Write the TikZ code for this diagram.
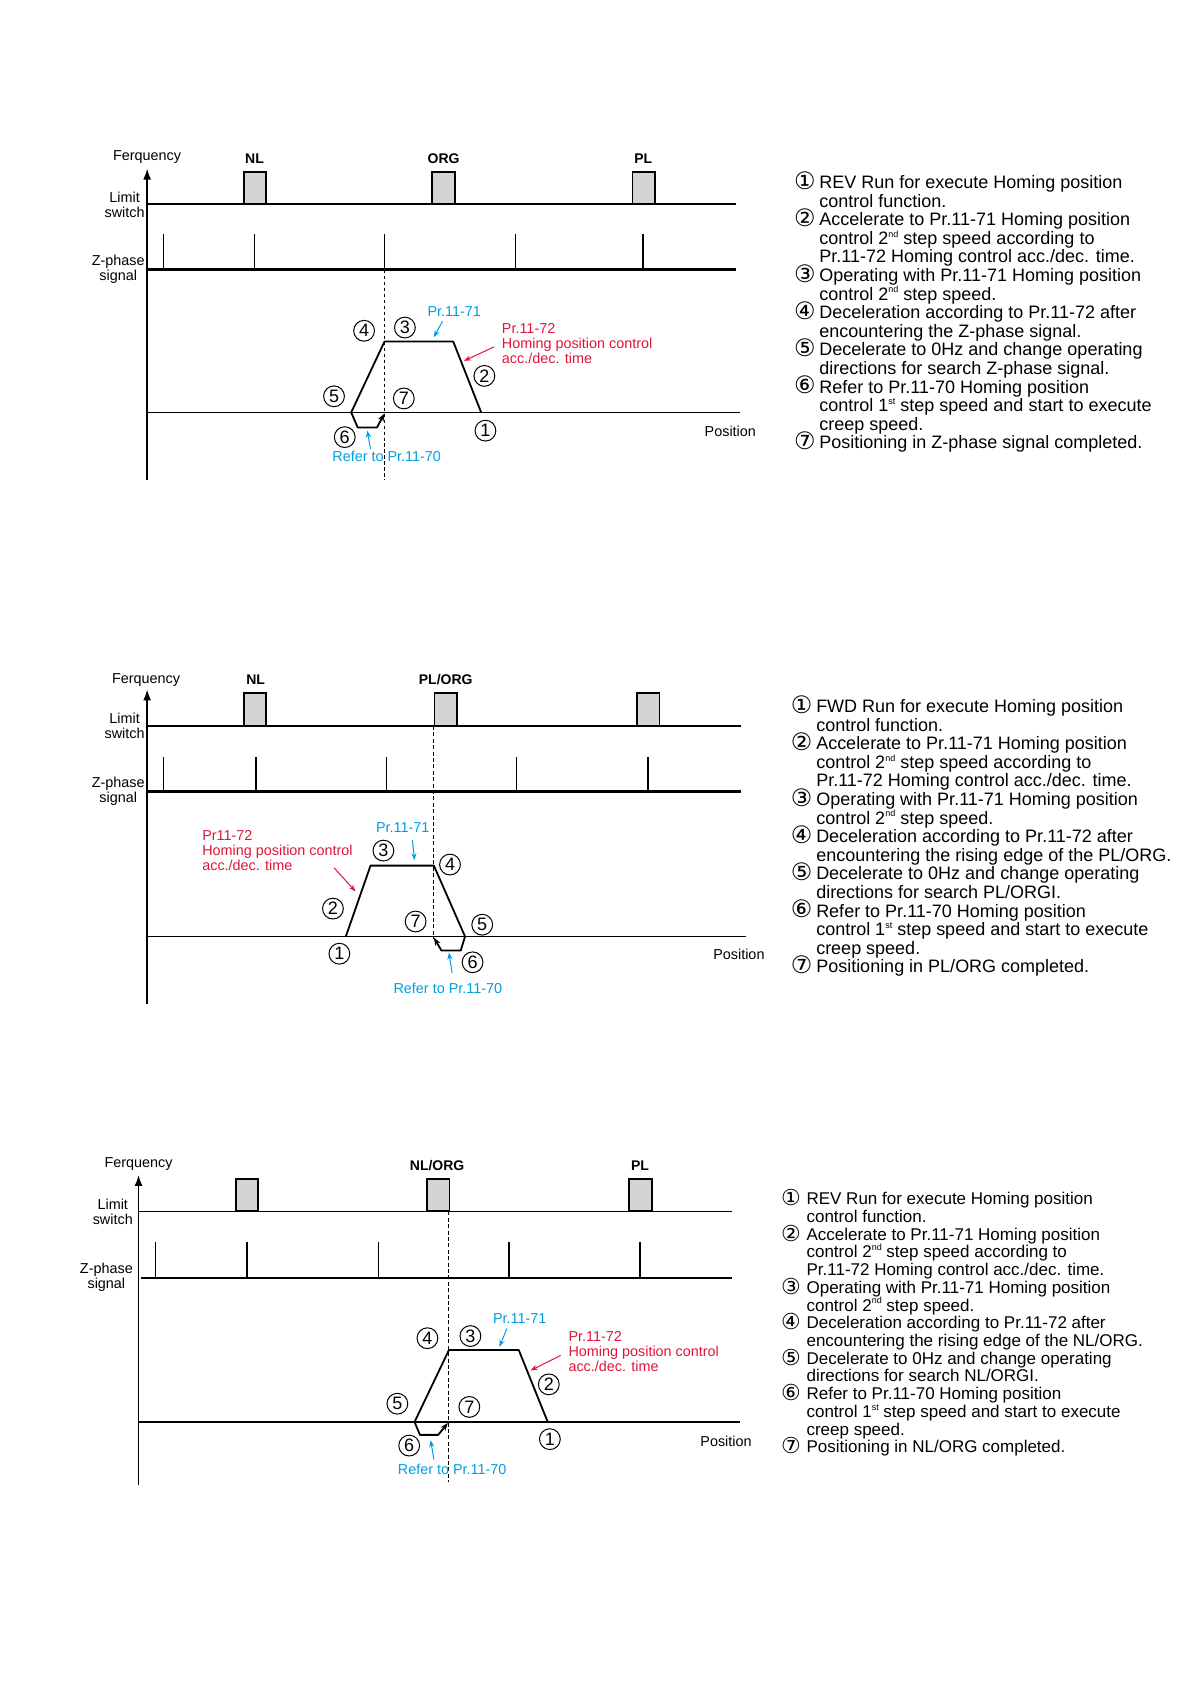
\documentclass[tikz,border=0pt]{standalone}
\usepackage{fontspec}
\setmainfont{Liberation Sans}
\newfontfamily\circfont{DejaVu Sans}
\usetikzlibrary{arrows.meta}
\definecolor{prblue}{RGB}{0,158,224}
\definecolor{prred}{RGB}{222,22,58}
\def\cnsz{12}
\newcommand{\cn}[1]{\makebox[12.7pt][l]{\smash{\raisebox{-0.4pt}{\circfont\fontsize{\cnsz}{\cnsz}\selectfont #1}}}}
\newcommand{\ind}{\hspace*{12.7pt}}
\newcommand{\sps}[1]{\smash{\raisebox{3.6pt}{\fontsize{4.5}{5}\selectfont #1}}}
\begin{document}
\begin{tikzpicture}[x=0.5372pt,y=-0.5372pt,
  lbl/.style={inner sep=0pt,font=\fontsize{7.2}{7.5}\selectfont},
  sw/.style={inner sep=0pt,font=\fontsize{7}{8}\selectfont\bfseries},
  blu/.style={lbl,text=prblue},
  rd/.style={lbl,text=prred,align=left,anchor=west},
  num/.style={circle,draw,line width=0.5pt,inner sep=0pt,minimum size=10.4pt,font=\fontsize{9}{9}\selectfont},
  sbox/.style={draw,line width=0.9pt,fill=black!17,minimum width=11.3pt,minimum height=16.1pt,inner sep=0pt},
  axis/.style={line width=0.8pt,-{Latex[length=5.5pt,width=4pt]}},
  thinline/.style={line width=0.6pt},
  zline/.style={line width=1.3pt},
  pulse/.style={line width=0.9pt},
  pthin/.style={line width=0.5pt},
  trap/.style={line width=0.9pt,line join=round},
  guide/.style={line width=0.5pt,dash pattern=on 2pt off 1.2pt},
  bptr/.style={prblue,line width=0.5pt,-{Stealth[length=3.5pt,width=2.6pt]}},
  rptr/.style={prred,line width=0.5pt,-{Stealth[length=3.5pt,width=2.6pt]}},
  notes/.style={anchor=north west,inner sep=0pt,align=left,font=\fontsize{9}{9.3}\selectfont}]
\useasboundingbox (0,0) rectangle (1108,1568);

% first chart
\node[lbl] (fq1) at (137,146) {Ferquency};
\draw[axis] (137,447) -- (137,157);
\node[lbl,anchor=east,align=center] (ls1) at (135,191) {Limit\\switch};
\node[lbl,anchor=east,align=center] (zs1) at (135,251) {Z-phase\\signal};
\draw[thinline] (137,190) -- (685,190);
\node[sbox] (b1a) at (237.5,175) {};
\node[sbox] (b1b) at (413,175) {};
\node[sbox] (b1c) at (599.5,175) {};
\node[sw] (t1a) at (237,148) {NL};
\node[sw] (t1b) at (413,148) {ORG};
\node[sw] (t1c) at (599,148) {PL};
\draw[zline] (137,251) -- (685,251);
\draw[pthin] (152,218) -- (152,251);
\foreach \x in {237,358,480,599}
  \draw[pulse] (\x,218) -- (\x,251);
\draw[thinline] (137,384) -- (689,384);
\node[lbl] (ps1) at (680,402) {Position};
\draw[guide,line width=0.8pt,dash pattern=on 1.8pt off 1.2pt] (358,251) -- (358,447);
\draw[trap] (327,384) -- (358,318) -- (422,318) -- (448,384);
\draw[trap,-{Stealth[length=4pt,width=3pt]}] (327,384) -- (333,398) -- (351,398) -- (358,385);
\node[num] (c1d) at (339,308) {4};
\node[num] (c1c) at (377,305) {3};
\node[num] (c1e) at (311,369) {5};
\node[num] (c1g) at (376,371) {7};
\node[num] (c1b) at (451,350) {2};
\node[num] (c1f) at (321,407) {6};
\node[num] (c1a) at (452,401) {1};
\node[blu] (v1) at (423,290) {Pr.11-71};
\coordinate (v1s) at (412,299);
\coordinate (v1e) at (404,314);
\draw[bptr] (v1s) -- (v1e);
\node[rd] (r1) at (467,320) {Pr.11-72\\Homing position control\\acc./dec. time};
\coordinate (r1s) at (460,323);
\coordinate (r1e) at (432,336);
\draw[rptr] (r1s) -- (r1e);
\node[blu] (k1) at (360,425) {Refer to Pr.11-70};
\coordinate (k1s) at (345,418);
\coordinate (k1e) at (342,401);
\draw[bptr] (k1s) -- (k1e);
\node[notes] (n1) at (739,163) {\cn{①}REV Run for execute Homing position\\
\ind control function.\\
\cn{②}Accelerate to Pr.11-71 Homing position\\
\ind control 2\sps{nd} step speed according to\\
\ind Pr.11-72 Homing control acc./dec. time.\\
\cn{③}Operating with Pr.11-71 Homing position\\
\ind control 2\sps{nd} step speed.\\
\cn{④}Deceleration according to Pr.11-72 after\\
\ind encountering the Z-phase signal.\\
\cn{⑤}Decelerate to 0Hz and change operating\\
\ind directions for search Z-phase signal.\\
\cn{⑥}Refer to Pr.11-70 Homing position\\
\ind control 1\sps{st} step speed and start to execute\\
\ind creep speed.\\
\cn{⑦}Positioning in Z-phase signal completed.};

% second chart
\node[lbl] (fq2) at (136,633) {Ferquency};
\draw[axis] (137,935) -- (137,642);
\node[lbl,anchor=east,align=center] (ls2) at (135,676) {Limit\\switch};
\node[lbl,anchor=east,align=center] (zs2) at (135,737) {Z-phase\\signal};
\draw[thinline] (137,676) -- (690,676);
\node[sbox] (b2a) at (237.5,660.5) {};
\node[sbox] (b2b) at (415,660.5) {};
\node[sbox] (b2c) at (603.5,660.5) {};
\node[sw] (t2a) at (238,633) {NL};
\node[sw] (t2b) at (415,633) {PL/ORG};
\draw[zline] (137,737) -- (690,737);
\draw[pthin] (152,705) -- (152,737);
\draw[pthin] (360,705) -- (360,737);
\foreach \x in {238,481,603}
  \draw[pulse] (\x,705) -- (\x,737);
\draw[thinline] (137,872) -- (695,872);
\node[lbl] (ps2) at (688,889) {Position};
\draw[guide] (404,676) -- (404,874);
\draw[trap] (322,872) -- (345,806) -- (404,806) -- (433,872);
\draw[trap,-{Stealth[length=4pt,width=3pt]}] (433,872) -- (429,885) -- (411,885) -- (404,873);
\node[num] (c2c) at (357,792) {3};
\node[num] (c2d) at (419,805) {4};
\node[num] (c2b) at (310,846) {2};
\node[num] (c2g) at (387,858) {7};
\node[num] (c2e) at (449,861) {5};
\node[num] (c2a) at (316,888) {1};
\node[num] (c2f) at (440,896) {6};
\node[blu] (v2) at (375,771) {Pr.11-71};
\coordinate (v2s) at (384,782);
\coordinate (v2e) at (386,801);
\draw[bptr] (v2s) -- (v2e);
\node[rd] (r2) at (188,792) {Pr11-72\\Homing position control\\acc./dec. time};
\coordinate (r2s) at (311,808);
\coordinate (r2e) at (331,830);
\draw[rptr] (r2s) -- (r2e);
\node[blu] (k2) at (417,920) {Refer to Pr.11-70};
\coordinate (k2s) at (421,906);
\coordinate (k2e) at (418,887);
\draw[bptr] (k2s) -- (k2e);
\node[notes] (n2) at (736,651) {\cn{①}FWD Run for execute Homing position\\
\ind control function.\\
\cn{②}Accelerate to Pr.11-71 Homing position\\
\ind control 2\sps{nd} step speed according to\\
\ind Pr.11-72 Homing control acc./dec. time.\\
\cn{③}Operating with Pr.11-71 Homing position\\
\ind control 2\sps{nd} step speed.\\
\cn{④}Deceleration according to Pr.11-72 after\\
\ind encountering the rising edge of the PL/ORG.\\
\cn{⑤}Decelerate to 0Hz and change operating\\
\ind directions for search PL/ORGI.\\
\cn{⑥}Refer to Pr.11-70 Homing position\\
\ind control 1\sps{st} step speed and start to execute\\
\ind creep speed.\\
\cn{⑦}Positioning in PL/ORG completed.};

% third chart
\node[lbl] (fq3) at (129,1084) {Ferquency};
\draw[axis] (129,1383) -- (129,1094);
\node[lbl,anchor=east,align=center] (ls3) at (124,1128) {Limit\\switch};
\node[lbl,anchor=east,align=center] (zs3) at (124,1189) {Z-phase\\signal};
\draw[thinline] (129,1128) -- (682,1128);
\node[sbox] (b3a) at (230,1112.5) {};
\node[sbox] (b3b) at (408,1112.5) {};
\node[sbox] (b3c) at (596.5,1112.5) {};
\node[sw] (t3b) at (407,1085) {NL/ORG};
\node[sw] (t3c) at (596,1085) {PL};
\draw[zline] (131,1190) -- (682,1190);
\draw[pthin] (145,1156) -- (145,1190);
\draw[pthin] (352,1156) -- (352,1190);
\foreach \x in {230,474,596}
  \draw[pulse] (\x,1156) -- (\x,1190);
\draw[thinline] (129,1324) -- (689,1324);
\node[lbl] (ps3) at (676,1342) {Position};
\draw[guide] (418,1128) -- (418,1380);
\draw[trap] (386,1324) -- (418,1257) -- (483,1257) -- (510,1324);
\draw[trap,-{Stealth[length=4pt,width=3pt]}] (386,1324) -- (391,1336) -- (408,1336) -- (417,1325);
\node[num] (c3d) at (398,1246) {4};
\node[num] (c3c) at (438,1244) {3};
\node[num] (c3e) at (370,1307) {5};
\node[num] (c3g) at (437,1310) {7};
\node[num] (c3b) at (511,1289) {2};
\node[num] (c3f) at (381,1346) {6};
\node[num] (c3a) at (512,1340) {1};
\node[blu] (v3) at (484,1228) {Pr.11-71};
\coordinate (v3s) at (472,1237);
\coordinate (v3e) at (465,1254);
\draw[bptr] (v3s) -- (v3e);
\node[rd] (r3) at (529,1258) {Pr.11-72\\Homing position control\\acc./dec. time};
\coordinate (r3s) at (522,1262);
\coordinate (r3e) at (494,1276);
\draw[rptr] (r3s) -- (r3e);
\node[blu] (k3) at (421,1368) {Refer to Pr.11-70};
\coordinate (k3s) at (404,1359);
\coordinate (k3e) at (401,1341);
\draw[bptr] (k3s) -- (k3e);
\node[notes,font={\fontsize{8.5}{8.86}\selectfont\def\cnsz{11}}] (n3) at (727,1110) {\cn{①}REV Run for execute Homing position\\
\ind control function.\\
\cn{②}Accelerate to Pr.11-71 Homing position\\
\ind control 2\sps{nd} step speed according to\\
\ind Pr.11-72 Homing control acc./dec. time.\\
\cn{③}Operating with Pr.11-71 Homing position\\
\ind control 2\sps{nd} step speed.\\
\cn{④}Deceleration according to Pr.11-72 after\\
\ind encountering the rising edge of the NL/ORG.\\
\cn{⑤}Decelerate to 0Hz and change operating\\
\ind directions for search NL/ORGI.\\
\cn{⑥}Refer to Pr.11-70 Homing position\\
\ind control 1\sps{st} step speed and start to execute\\
\ind creep speed.\\
\cn{⑦}Positioning in NL/ORG completed.};
\end{tikzpicture}
\end{document}
